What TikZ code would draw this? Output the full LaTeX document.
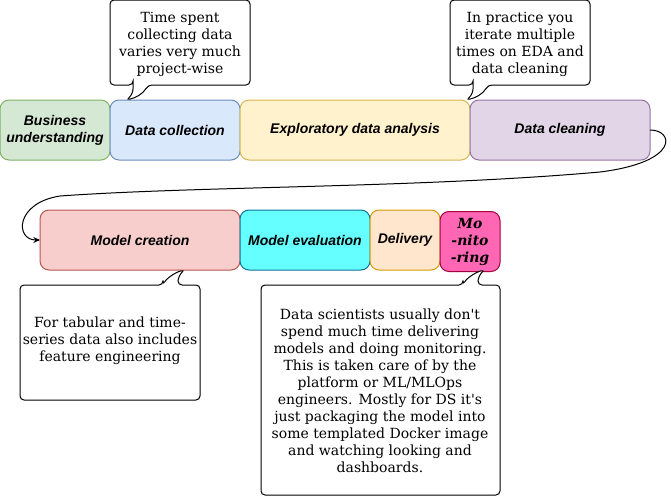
\documentclass[tikz,border=0pt]{standalone}
\usepackage{fontspec}
\setmainfont{DejaVu Serif}
\newfontfamily\lsans{Liberation Sans}
\usetikzlibrary{arrows.meta}
\definecolor{gF}{HTML}{D5E8D4}\definecolor{gS}{HTML}{82B366}
\definecolor{bF}{HTML}{DAE8FC}\definecolor{bS}{HTML}{6C8EBF}
\definecolor{yF}{HTML}{FFF2CC}\definecolor{yS}{HTML}{D6B656}
\definecolor{pF}{HTML}{E1D5E7}\definecolor{pS}{HTML}{9673A6}
\definecolor{rF}{HTML}{F8CECC}\definecolor{rS}{HTML}{B85450}
\definecolor{cF}{HTML}{66FFFF}\definecolor{cS}{HTML}{10739E}
\definecolor{oF}{HTML}{FFE6CC}\definecolor{oS}{HTML}{D79B00}
\definecolor{mF}{HTML}{FF66B3}\definecolor{mS}{HTML}{A50040}
\tikzset{
  stagebox/.style={draw, line width=0.75pt, rounded corners=6.75pt, minimum height=45pt,
    inner sep=0pt, outer sep=0pt, align=center,
    font=\fontsize{10.5pt}{12.75pt}\selectfont\lsans\bfseries\itshape},
  calloutshape/.style={draw, fill=white, line width=0.75pt, rounded corners=3pt},
  callouttext/.style={align=center, inner sep=0pt, font=\fontsize{10.5pt}{12.75pt}\selectfont},
  conn/.style={draw, line width=0.75pt, -{Stealth[length=5pt,width=4.5pt]}}
}
\begin{document}
\begin{tikzpicture}[x=0.75pt,y=-0.75pt]
\useasboundingbox (0,0) rectangle (671,496);
% stage boxes
\node[stagebox, fill=gF, draw=gS, minimum width=82.5pt] (bu) at (55,130) {Business\\understanding};
\node[stagebox, fill=bF, draw=bS, minimum width=97.5pt] (dcol) at (175,130) {Data collection};
\node[stagebox, fill=yF, draw=yS, minimum width=172.5pt] (eda) at (355,130) {Exploratory data analysis};
\node[stagebox, fill=pF, draw=pS, minimum width=135pt] (dcl) at (560,130) {Data cleaning};
\node[stagebox, fill=rF, draw=rS, minimum width=150pt] (mc) at (140,240) {Model creation};
\node[stagebox, fill=cF, draw=cS, minimum width=97.5pt] (me) at (305,240) {Model evaluation};
\node[stagebox, fill=oF, draw=oS, minimum width=52.5pt] (del) at (405,240) {Delivery};
\node[stagebox, fill=mF, draw=mS, minimum width=45pt, font=\fontsize{10.5pt}{12.75pt}\selectfont\bfseries\itshape] (mon) at (470,241.5) {Mo\\-nito\\-ring};
% connector
\draw[conn] (dcl.east) .. controls (674,130) and (680,162) .. (600,172)
  .. controls (420,188) and (200,186) .. (60,196)
  .. controls (15,203) and (15,240) .. (mc.west);
% callout 1
\draw[calloutshape] (133,85) -- (110,85) -- (110,0) -- (250,0) -- (250,85) -- (148,85)
  .. controls (143,94) and (135,98) .. (126,100)
  .. controls (131,96) and (133,92) .. (133,85) -- cycle;
\node[callouttext] (c1) at (180,44.5) {Time spent\\collecting data\\varies very much\\project-wise};
% callout 2
\draw[calloutshape] (473,85) -- (450,85) -- (450,0) -- (590,0) -- (590,85) -- (488,85)
  .. controls (483,94) and (475,98) .. (466,100)
  .. controls (471,96) and (473,92) .. (473,85) -- cycle;
\node[callouttext] (c2) at (520,44.5) {In practice you\\iterate multiple\\times on EDA and\\data cleaning};
% callout 3
\draw[calloutshape] (163,285) -- (20,285) -- (20,400) -- (200,400) -- (200,285) -- (178,285)
  .. controls (178,279) and (180,274) .. (185,270)
  .. controls (176,272) and (167,278) .. (163,285) -- cycle;
\node[callouttext] (c3) at (110,341) {For tabular and time-\\series data also includes\\feature engineering};
% callout 4
\draw[calloutshape] (463,285) -- (261,285) -- (261,495) -- (500,495) -- (500,285) -- (478,285)
  .. controls (478,279) and (480,274) .. (485,270)
  .. controls (476,272) and (467,278) .. (463,285) -- cycle;
\node[callouttext] (c4) at (380,391) {Data scientists usually don\textquotesingle t\\spend much time delivering\\models and doing monitoring.\\This is taken care of by the\\platform or ML/MLOps\\engineers. Mostly for DS it\textquotesingle s\\just packaging the model into\\some templated Docker image\\and watching looking and\\dashboards.};
\end{tikzpicture}
\end{document}
